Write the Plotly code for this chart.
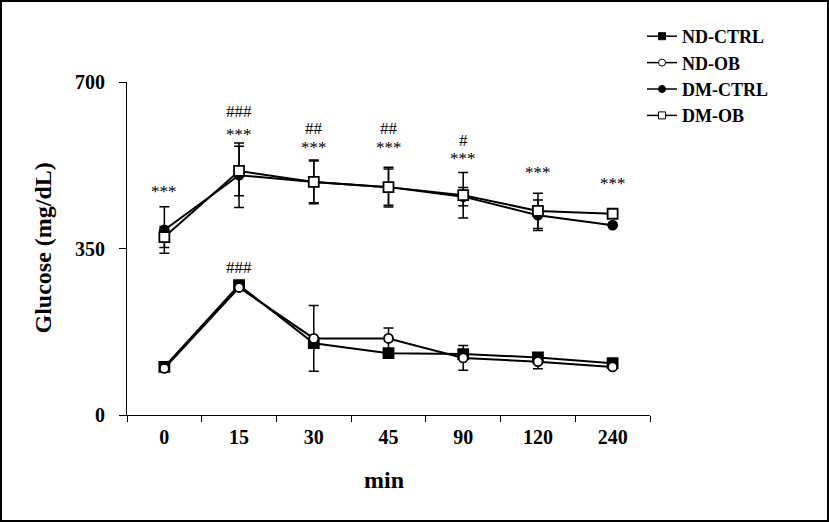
import plotly.graph_objects as go

categories = ["0", "15", "30", "45", "90", "120", "240"]

nd_ctrl = [101, 273, 151, 130, 128, 121, 109]
nd_ob = [98, 268, 161, 161, 120, 112, 101]
dm_ctrl = [389, 504, 490, 479, 459, 420, 399]
dm_ob = [374, 513, 490, 479, 462, 429, 423]

nd_ctrl_err = [None, None, None, None, None, None, None]
nd_ob_err = [None, 6, 69, 22, 26, 15, None]
dm_ctrl_err = [49, 68, 46, 38, 19, 32, None]
dm_ob_err = [22, 52, 44, 42, 48, 37, None]

star_labels = ["***", "***", "***", "***", "***", "***", "***"]
star_y = [469, 589, 563, 563, 539, 509, 486]
hash_labels = ["", "###", "##", "##", "#", "", ""]
hash_y = [0, 637, 603, 603, 576, 0, 0]
nd_hash_label = "###"
nd_hash_y = 311

FONT = "Liberation Serif"

fig = go.Figure()

def add(name, y, err, symbol, fill):
    fig.add_trace(go.Scatter(
        x=categories, y=y, name=name, mode="lines+markers",
        line=dict(color="black", width=2),
        marker=dict(symbol=symbol, size=10 if "square" in symbol else 9,
                    color=fill, line=dict(color="black", width=1.8)),
        error_y=dict(type="data", array=err, visible=True, color="black",
                     thickness=1.5, width=5),
        showlegend=False,
    ))
    # legend-only entry with smaller marker, as in the original
    fig.add_trace(go.Scatter(
        x=[None], y=[None], name="<b>" + name + "</b>", mode="lines+markers",
        line=dict(color="black", width=1.5),
        marker=dict(symbol=symbol, size=7, color=fill, line=dict(color="black", width=1)),
        showlegend=True,
    ))

add("ND-CTRL", nd_ctrl, nd_ctrl_err, "square", "black")
add("ND-OB", nd_ob, nd_ob_err, "circle", "white")
add("DM-CTRL", dm_ctrl, dm_ctrl_err, "circle", "black")
add("DM-OB", dm_ob, dm_ob_err, "square", "white")

ann_font = dict(family=FONT, size=17, color="black")
annotations = []
for i, (t, yy) in enumerate(zip(star_labels, star_y)):
    annotations.append(dict(x=i, y=yy, text=t, showarrow=False, font=ann_font))
for i, (t, yy) in enumerate(zip(hash_labels, hash_y)):
    if t:
        annotations.append(dict(x=i, y=yy, text=t, showarrow=False, font=ann_font))
annotations.append(dict(x=1, y=nd_hash_y, text=nd_hash_label, showarrow=False, font=ann_font))

W, H = 829, 522
L, R, T, B = 127, 179, 82, 107
pw, ph = W - L - R, H - T - B

annotations.append(dict(xref="paper", yref="paper", x=(42 - L) / pw, y=0.5,
                        xanchor="center", yanchor="middle",
                        text="<b>Glucose (mg/dL)</b>", textangle=-90, showarrow=False,
                        font=dict(family=FONT, size=24, color="black")))
annotations.append(dict(xref="paper", yref="paper", x=(384 - L) / pw, y=(415 - 480) / ph,
                        xanchor="center", yanchor="middle",
                        text="<b>min</b>", showarrow=False,
                        font=dict(family=FONT, size=24, color="black")))

fig.update_layout(
    width=W, height=H,
    margin=dict(l=L, r=R, t=T, b=B, autoexpand=False),
    paper_bgcolor="white", plot_bgcolor="white",
    showlegend=True,
    legend=dict(x=(642 - L) / pw, y=(415 - 18) / ph, xanchor="left", yanchor="top",
                font=dict(family=FONT, size=18, color="black"),
                traceorder="normal", bgcolor="rgba(0,0,0,0)"),
    annotations=annotations,
    shapes=[dict(type="rect", xref="paper", yref="paper",
                 x0=-(L - 1) / pw, x1=(W - L - 1) / pw,
                 y0=-(B - 1) / ph, y1=(ph + T - 1) / ph,
                 line=dict(color="black", width=2))],
    font=dict(family=FONT, color="black"),
)

tickfont = dict(family=FONT, size=20, color="black", weight="bold")
fig.update_xaxes(type="category", range=[-0.5, 6.5], showline=True, linecolor="black",
                 linewidth=1.2, ticks="outside", tickson="boundaries", ticklen=6,
                 tickcolor="black", showgrid=False, zeroline=False,
                 tickfont=tickfont, ticklabelstandoff=4)
fig.update_yaxes(range=[0, 700], tickvals=[0, 350, 700], showline=True, linecolor="black",
                 linewidth=1.2, ticks="outside", ticklen=7, tickcolor="black",
                 showgrid=False, zeroline=False, ticklabelstandoff=10,
                 tickfont=tickfont)

fig.write_html("out.html", config={"displayModeBar": False})

with open("out.html", "r", encoding="utf-8") as f:
    html = f.read()
html = html.replace("<head>", "<head><style>html,body{margin:0;padding:0;overflow:hidden}</style>", 1)
with open("out.html", "w", encoding="utf-8") as f:
    f.write(html)
